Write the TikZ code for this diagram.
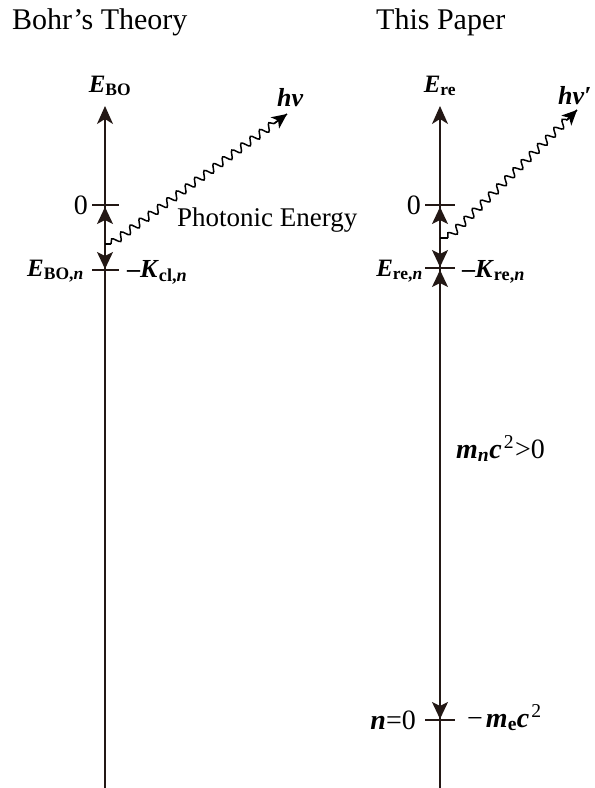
\documentclass[tikz,border=0pt]{standalone}
\usepackage{fontspec}
\setmainfont{Liberation Serif}
\usetikzlibrary{arrows.meta,decorations.pathmorphing,calc}
\definecolor{ink}{HTML}{231815}
\begin{document}
\begin{tikzpicture}[x=1pt,y=-1pt,
  axis/.style={line width=1.6pt, draw=ink, -{Stealth[length=18pt,width=16pt,inset=5pt]}},
  tickline/.style={line width=1.4pt, draw=ink},
  head/.style={line width=1.4pt, draw=ink, fill=black, -{Stealth[length=17pt,width=16pt,inset=4pt]}},
  photon/.style={line width=1.5pt, decorate, decoration={snake, amplitude=3.8pt, segment length=11.5pt, post length=11pt}},
  photontip/.style={line width=1.5pt, -{Stealth[length=15pt,width=14pt,inset=4pt]}},
  lab/.style={font=\fontsize{25}{28}\selectfont, inner sep=0pt},
  big/.style={font=\fontsize{28}{30}\selectfont},
  title/.style={font=\fontsize{30}{33}\selectfont, inner sep=0pt, anchor=base west}
]
\useasboundingbox (0,0) rectangle (595,788);

% titles
\node[title] (t1) at (12,29) {Bohr’s Theory};
\node[title] (t2) at (376,29) {This Paper};

% ---------- left axis ----------
\coordinate (Lbot) at (105,788);
\coordinate (Ltop) at (105,106);
\draw[axis] (Lbot) -- (Ltop);
\coordinate (L0a) at (92,205);  \coordinate (L0b) at (119,205);
\coordinate (Lna) at (92,270);  \coordinate (Lnb) at (119,270);
\draw[tickline] (L0a) -- (L0b);
\draw[tickline] (Lna) -- (Lnb);
\coordinate (Lu1) at (105,226); \coordinate (Lu2) at (105,207);
\draw[head] (Lu1) -- (Lu2);
\coordinate (Ld1) at (105,251); \coordinate (Ld2) at (105,269);
\draw[head] (Ld1) -- (Ld2);
% photon
\coordinate (Lp0) at (105,244);
\coordinate (Lp1) at (111,244);
\coordinate (Lp2) at (287,114);
\draw[line width=1.5pt] (Lp0) -- (Lp1);
\draw[photon] (Lp1) -- (Lp2);
\draw[photontip] ($(Lp2)!15pt!(Lp1)$) -- (Lp2);

\node[lab, anchor=base] (EBO) at (110,92) {\textbf{\textit{E}}\textsubscript{\textbf{BO}}};
\node[lab, font=\fontsize{26}{28}\selectfont, anchor=base west] (hv) at (277,106) {\textbf{\textit{hν}}};
\node[lab, big, anchor=base east] (z1) at (88,214) {0};
\node[lab, anchor=base east] (EBOn) at (84,276) {\textbf{\textit{E}}\textsubscript{\textbf{BO,\textit{n}}}};
\node[lab, font=\fontsize{26}{28}\selectfont, anchor=base west] (Kcl) at (127,277) {\textbf{–\textit{K}}\textsubscript{\textbf{cl,\textit{n}}}};
\node[lab, font=\fontsize{27}{30}\selectfont, anchor=base west] (PE) at (177,226) {Photonic Energy};

% ---------- right axis ----------
\coordinate (Rbot) at (440,788);
\coordinate (Rtop) at (440,106);
\draw[axis] (Rbot) -- (Rtop);
\coordinate (R0a) at (425,205);  \coordinate (R0b) at (455,205);
\coordinate (Rna) at (425,268);  \coordinate (Rnb) at (455,268);
\coordinate (Rza) at (425,720);  \coordinate (Rzb) at (455,720);
\draw[tickline] (R0a) -- (R0b);
\draw[tickline] (Rna) -- (Rnb);
\draw[tickline] (Rza) -- (Rzb);
\coordinate (Ru1) at (440,226); \coordinate (Ru2) at (440,207);
\draw[head] (Ru1) -- (Ru2);
\coordinate (Rd1) at (440,250); \coordinate (Rd2) at (440,267);
\draw[head] (Rd1) -- (Rd2);
\coordinate (Rv1) at (440,287); \coordinate (Rv2) at (440,270);
\draw[head] (Rv1) -- (Rv2);
\coordinate (Rz1) at (440,699); \coordinate (Rz2) at (440,719);
\draw[head] (Rz1) -- (Rz2);
% photon
\coordinate (Rp0) at (440,238);
\coordinate (Rp1) at (448,238);
\coordinate (Rp2) at (577,110);
\draw[line width=1.5pt] (Rp0) -- (Rp1);
\draw[photon] (Rp1) -- (Rp2);
\draw[photontip] ($(Rp2)!15pt!(Rp1)$) -- (Rp2);

\node[lab, anchor=base] (Ere) at (440,92) {\textbf{\textit{E}}\textsubscript{\textbf{re}}};
\node[lab, font=\fontsize{26}{28}\selectfont, anchor=base west] (hv2) at (558,104) {\textbf{\textit{hν′}}};
\node[lab, big, anchor=base east] (z2) at (421,214) {0};
\node[lab, anchor=base east] (Eren) at (423,276) {\textbf{\textit{E}}\textsubscript{\textbf{re,\textit{n}}}};
\node[lab, font=\fontsize{26}{28}\selectfont, anchor=base west] (Kre) at (462,277) {\textbf{–\textit{K}}\textsubscript{\textbf{re,\textit{n}}}};
\node[lab, big, anchor=base west] (mn) at (456,458) {\textbf{\textit{m}}\textsubscript{\textbf{\textit{n}}}\textbf{\textit{c}}\kern2pt\textsuperscript{2}\kern1pt>0};
\node[lab, big, anchor=base east] (n0) at (416,729) {\textbf{\textit{n}}=0};
\node[lab, big, anchor=base west] (me) at (467,727) {−\kern3pt\textbf{\textit{m}}\textsubscript{\textbf{e}}\textbf{\textit{c}}\kern2pt\textsuperscript{2}};
\end{tikzpicture}
\end{document}
